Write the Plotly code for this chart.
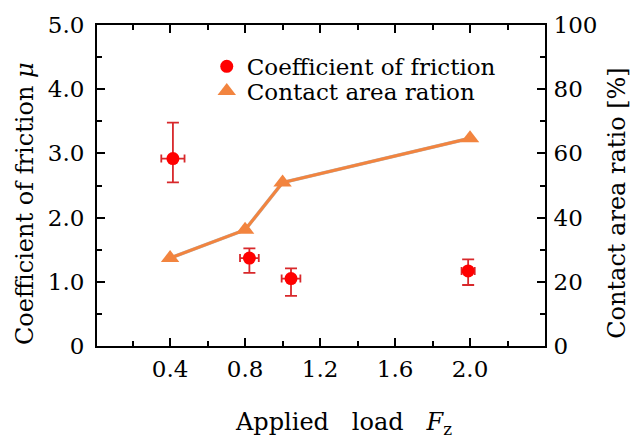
import plotly.graph_objects as go

# Data
load_mu = [0.415, 0.823, 1.045, 1.99]
mu = [2.92, 1.37, 1.05, 1.17]
mu_err_plus = [0.56, 0.15, 0.16, 0.18]
mu_err_minus = [0.37, 0.23, 0.27, 0.22]
load_err = [0.062, 0.05, 0.05, 0.035]

load_area = [0.4, 0.8, 1.0, 2.0]
area_ratio = [27.4, 36.2, 50.9, 64.7]

x_ticks = [0.4, 0.8, 1.2, 1.6, 2.0]
x_ticktext = ["0.4", "0.8", "1.2", "1.6", "2.0"]
y_ticks = [0, 1, 2, 3, 4, 5]
y_ticktext = ["0", "1.0", "2.0", "3.0", "4.0", "5.0"]
y2_ticks = [0, 20, 40, 60, 80, 100]

FONT = "DejaVu Serif"
RED = "#FF0000"
ERR = "#D8282B"
ORANGE = "#F2843F"

fig = go.Figure()

# Contact area line (shadow + line), no legend entry
fig.add_trace(go.Scatter(
    x=load_area, y=area_ratio, yaxis="y2", mode="lines",
    line=dict(color="rgba(120,120,120,0.55)", width=3.5),
    showlegend=False, hoverinfo="skip"))
fig.add_trace(go.Scatter(
    x=load_area, y=area_ratio, yaxis="y2", mode="lines",
    line=dict(color=ORANGE, width=3),
    showlegend=False))

fig.add_trace(go.Scatter(
    x=load_mu, y=mu, mode="markers", name="Coefficient of friction",
    marker=dict(symbol="circle", size=13, color=RED),
    error_y=dict(type="data", symmetric=False, array=mu_err_plus,
                 arrayminus=mu_err_minus, color=ERR, thickness=1.8, width=6),
    error_x=dict(type="data", array=load_err, color=ERR, thickness=1.8, width=4),
    legend="legend"))

fig.add_trace(go.Scatter(
    x=load_area, y=area_ratio, yaxis="y2", mode="markers",
    name="Contact area ration",
    marker=dict(symbol="triangle-up", size=16, color=ORANGE),
    legend="legend2"))

axis_common = dict(
    showline=True, linecolor="black", linewidth=2,
    ticks="inside", tickcolor="black", tickwidth=1.5, ticklen=8,
    showgrid=False, zeroline=False,
    tickfont=dict(family=FONT, size=23, color="black"),
)

fig.update_layout(
    width=633, height=442,
    margin=dict(l=97, r=88, t=25, b=96),
    paper_bgcolor="white", plot_bgcolor="white",
    font=dict(family=FONT, color="black"),
    xaxis=dict(range=[0.01, 2.4], tickvals=x_ticks, ticktext=x_ticktext,
               mirror="ticks", ticklabelstandoff=1,
               minor=dict(tick0=0, dtick=0.2, ticks="inside", ticklen=5,
                          tickcolor="black", tickwidth=1.5),
               **axis_common),
    yaxis=dict(range=[0, 5], tickvals=y_ticks, ticktext=y_ticktext,
               ticklabelstandoff=6,
               minor=dict(tick0=0, dtick=0.5, ticks="inside", ticklen=5,
                          tickcolor="black", tickwidth=1.5),
               **axis_common),
    yaxis2=dict(range=[0, 100], tickvals=y2_ticks, overlaying="y", side="right",
                ticklabelstandoff=2,
                minor=dict(tick0=0, dtick=10, ticks="inside", ticklen=5,
                           tickcolor="black", tickwidth=1.5),
                **axis_common),
    legend=dict(x=0.245, y=0.871, xanchor="left", yanchor="middle",
                bgcolor="rgba(0,0,0,0)", font=dict(family=FONT, size=23),
                itemwidth=30),
    legend2=dict(x=0.245, y=0.794, xanchor="left", yanchor="middle",
                 bgcolor="rgba(0,0,0,0)", font=dict(family=FONT, size=23),
                 itemwidth=30),
    annotations=[
        dict(text="Coefficient of friction <i>μ</i>", xref="paper", yref="paper",
             x=-0.161, y=0.445, textangle=-90, showarrow=False,
             xanchor="center", yanchor="middle",
             font=dict(family=FONT, size=24)),
        dict(text="Contact area ratio [%]", xref="paper", yref="paper",
             x=1.16, y=0.445, textangle=-90, showarrow=False,
             xanchor="center", yanchor="middle",
             font=dict(family=FONT, size=24)),
        dict(text="Applied\u00a0\u00a0 load\u00a0\u00a0 <i>F</i><sub>z</sub>",
             xref="paper", yref="paper",
             x=0.551, y=-0.24, showarrow=False,
             xanchor="center", yanchor="middle",
             font=dict(family=FONT, size=24)),
    ],
)

fig.write_html("out.html")
